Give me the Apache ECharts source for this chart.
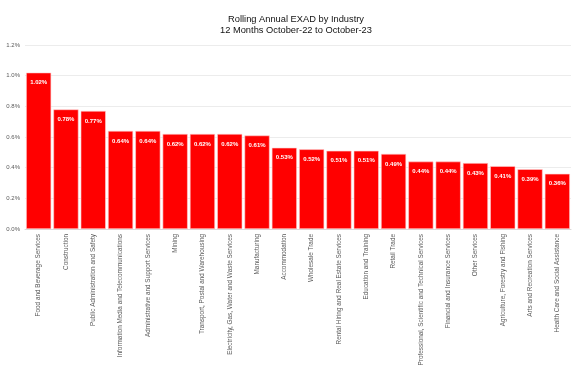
<!DOCTYPE html>
<html>
<head>
<meta charset="utf-8">
<script src="https://cdn.jsdelivr.net/npm/echarts@6/dist/echarts.min.js"></script>
<style>
  html, body { margin: 0; padding: 0; background: #fff; }
  #chart { width: 582px; height: 373px; }
</style>
</head>
<body>
<div id="chart"></div>
<script>
const industries = [
  'Food and Beverage Services',
  'Construction',
  'Public Administration and Safety',
  'Information Media and Telecommunications',
  'Administrative and Support Services',
  'Mining',
  'Transport, Postal and Warehousing',
  'Electricity, Gas, Water and Waste Services',
  'Manufacturing',
  'Accommodation',
  'Wholesale Trade',
  'Rental Hiring and Real Estate Services',
  'Education and Training',
  'Retail Trade',
  'Professional, Scientific and Technical Services',
  'Financial and Insurance Services',
  'Other Services',
  'Agriculture, Forestry and Fishing',
  'Arts and Recreation Services',
  'Health Care and Social Assistance'
]
const exadRates = [1.02, 0.78, 0.77, 0.64, 0.64, 0.62, 0.62, 0.62, 0.61, 0.53,
  0.52, 0.51, 0.51, 0.49, 0.44, 0.44, 0.43, 0.41, 0.39, 0.36]
const titleLines = ['Rolling Annual EXAD by Industry', '12 Months October-22 to October-23']

const chart = echarts.init(document.getElementById('chart'), null, { renderer: 'canvas' })

chart.setOption({
  backgroundColor: '#fff',
  animation: false,
  title: {
    text: titleLines.join('\n'),
    left: 291,
    top: 9,
    textAlign: 'center',
    textStyle: { color: '#111', fontSize: 9.3, fontWeight: 'normal', lineHeight: 11, fontFamily: 'Liberation Sans' },
  },
  grid: { left: 25, right: 11, top: 45, bottom: 144, outerBoundsMode: 'none', containLabel: false },
  xAxis: {
    type: 'category',
    data: industries,
    axisLine: { lineStyle: { color: '#d9d9d9' } },
    axisTick: { show: false },
    axisLabel: {
      rotate: 90,
      interval: 0,
      color: '#595959',
      fontSize: 6.4,
      fontFamily: 'Liberation Sans',
      margin: 5,
    },
  },
  yAxis: {
    type: 'value',
    min: 0,
    max: 1.2,
    interval: 0.2,
    axisLine: { show: false },
    axisTick: { show: false },
    axisLabel: {
      color: '#595959',
      fontSize: 6,
      fontFamily: 'Liberation Sans',
      margin: 5,
      formatter: (v) => v.toFixed(1) + '%',
    },
    splitLine: { lineStyle: { color: '#ececec' } },
  },
  series: [
    {
      type: 'bar',
      data: exadRates,
      barCategoryGap: '8%',
      itemStyle: { color: '#ff0000', borderColor: '#ffd0d0', borderWidth: 0.6 },
      label: {
        show: true,
        position: 'insideTop',
        distance: 7,
        color: '#fff',
        fontSize: 6,
        fontWeight: 'bold',
        fontFamily: 'Liberation Sans',
        formatter: (p) => p.value.toFixed(2) + '%',
      },
    },
  ],
})
</script>
</body>
</html>
